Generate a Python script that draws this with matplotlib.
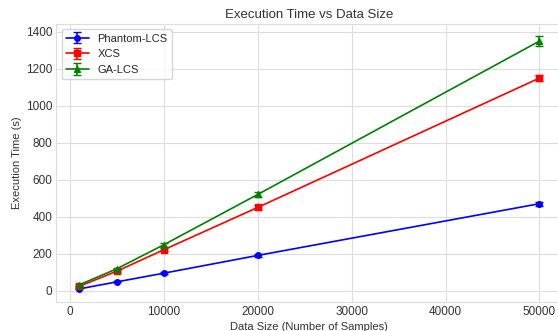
import numpy as np
import matplotlib.pyplot as plt
import seaborn as sns

sns.set_style('whitegrid', {'grid.color': '#dddddd', 'axes.edgecolor': '#dddddd'})
plt.rcParams['font.family'] = ['Liberation Sans', 'DejaVu Sans']

data_sizes = [1000, 5000, 10000, 20000, 50000]
phantom_time = [9, 47, 94, 190, 470]
phantom_err = [2, 3, 4, 6, 10]
xcs_time = [23, 105, 221, 450, 1150]
xcs_err = [3, 5, 8, 12, 18]
ga_time = [31, 118, 248, 520, 1350]
ga_err = [4, 6, 10, 14, 25]

fig = plt.figure(figsize=(5.58, 3.31), dpi=100)
# the reference image is cut off at the right, so the axes runs a bit past the edge
ax = fig.add_axes([0.101, 0.088, 0.907, 0.840])

ax.errorbar(data_sizes, phantom_time, yerr=phantom_err, fmt='-o', color='blue',
            label='Phantom-LCS', capsize=3, markersize=4, linewidth=1.2)
ax.errorbar(data_sizes, xcs_time, yerr=xcs_err, fmt='-s', color='red',
            label='XCS', capsize=3, markersize=4, linewidth=1.2)
ax.errorbar(data_sizes, ga_time, yerr=ga_err, fmt='-^', color='green',
            label='GA-LCS', capsize=3, markersize=4, linewidth=1.2)

ax.set_title('Execution Time vs Data Size', fontsize=9.5, color='#333333', pad=4)
ax.set_xlabel('Data Size (Number of Samples)', fontsize=8, color='#333333', labelpad=3)
ax.set_ylabel('Execution Time (s)', fontsize=8, color='#333333', labelpad=3)
ax.tick_params(labelsize=8.5, labelcolor='#333333', length=0, pad=3)
ax.legend(fontsize=8, loc='upper left')

plt.savefig('out.png')
